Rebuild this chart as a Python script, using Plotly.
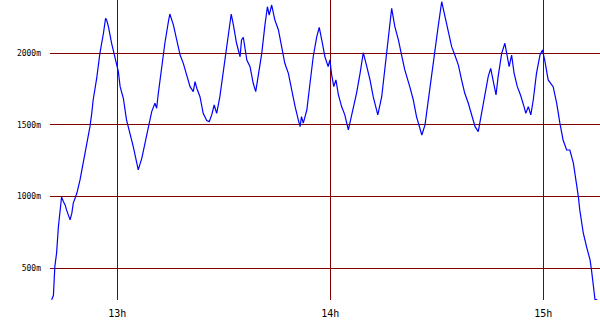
import plotly.graph_objects as go

# time in minutes after 12:00, altitude in metres
minutes = [41.5, 42.0, 42.4, 42.9, 43.4, 43.9, 44.3, 44.8, 45.3, 45.7, 46.7, 47.2, 47.6, 48.1, 48.6,
           49.5, 50.4, 51.4, 52.3, 52.8, 53.2, 54.2, 55.1, 56.1, 56.7, 57.0, 57.5, 58.4, 59.4, 60.3,
           60.8, 61.7, 62.6, 63.6, 64.5, 65.5, 65.9, 66.9, 67.8, 68.7, 69.7, 70.6, 71.1, 71.5, 72.5,
           73.4, 74.4, 74.8, 75.8, 76.7, 77.7, 78.6, 79.6, 80.5, 81.4, 81.9, 82.4, 83.3, 84.2, 85.2,
           85.9, 86.6, 87.3, 88.0, 88.9, 89.9, 90.8, 91.6, 92.1, 92.7, 93.6,
           94.6, 95.0, 95.5, 96.0, 96.5, 97.4, 98.3, 99.0, 99.7, 100.7, 101.6, 102.3, 102.8, 103.5,
           104.4, 105.4, 106.3, 107.2, 108.2, 109.1, 110.1, 111.0, 111.5, 111.9, 112.4, 112.9, 113.4,
           114.3, 115.2, 116.2, 116.9, 117.6, 118.5, 119.4, 119.9, 120.4, 121.0, 121.6, 122.3, 123.2,
           124.1, 125.1, 126.0, 127.4, 128.4, 129.3, 130.3, 131.2, 132.1, 133.4, 134.5, 135.4, 136.3,
           137.3, 138.2, 139.2, 140.1, 141.0, 142.4, 143.4, 144.3, 145.0, 145.8, 146.7, 147.6,
           148.6, 149.5, 150.4, 151.4, 152.3, 153.2, 154.2, 155.1, 156.1, 157.0, 157.9, 158.9, 159.8,
           160.8, 161.7, 162.7, 163.6, 164.5, 165.2, 165.9, 166.7, 167.3, 168.3, 169.2, 169.9, 170.4,
           171.1, 171.8, 172.7, 173.6, 174.6, 175.1, 175.8, 176.5, 177.2, 178.1, 179.1, 179.8, 180.5,
           181.4, 182.8, 183.8, 184.7, 185.6, 186.6, 187.5, 188.5, 189.4, 189.9, 190.3, 191.3, 192.2,
           193.2, 193.6, 194.1, 194.6, 195.2]
altitude = [280, 309, 511, 607, 788, 928, 997, 965, 942, 907, 837, 884, 954, 988, 1023,
            1116, 1233, 1348, 1488, 1581, 1674, 1826, 2000, 2140, 2244, 2232, 2186, 2070, 1965, 1872,
            1767, 1686, 1535, 1442, 1348, 1233, 1186, 1267, 1372, 1477, 1593, 1651, 1616, 1709, 1907,
            2070, 2221, 2274, 2198, 2105, 1988, 1930, 1837, 1767, 1732, 1802, 1756, 1697, 1581, 1530,
            1523, 1570, 1639, 1581, 1697, 1884, 2023, 2174, 2274, 2198, 2070,
            1976, 2093, 2112, 2035, 1953, 1907, 1791, 1732, 1837, 2000, 2198, 2325, 2267, 2337,
            2232, 2163, 2046, 1930, 1860, 1744, 1628, 1535, 1488, 1558, 1512, 1558, 1604,
            1791, 1976, 2116, 2181, 2093, 1976, 1907, 1953, 1849, 1767, 1814, 1709, 1628,
            1570, 1465, 1558, 1721, 1860, 2004, 1907, 1814, 1697, 1570, 1697, 1907, 2116,
            2314, 2186, 2093, 1988, 1884, 1767, 1674, 1558, 1488, 1430, 1500, 1674,
            1860, 2023, 2186, 2360, 2256, 2140, 2046, 1988, 1918, 1814, 1721, 1651, 1581,
            1488, 1453, 1581, 1721, 1837, 1895, 1814, 1709, 1837, 2000, 2070, 1976, 1907,
            1988, 1860, 1767, 1709, 1628, 1581, 1628, 1570, 1674, 1860, 1988, 2023, 1942,
            1814, 1767, 1651, 1512, 1395, 1325, 1325, 1233, 1093, 1000, 907, 744, 651,
            558, 488, 372, 280, 280]

alt_ticks = [500, 1000, 1500, 2000]
alt_labels = ["500m", "1000m", "1500m", "2000m"]
hour_ticks = [60, 120, 180]
hour_labels = ["13h", "14h", "15h"]

fig = go.Figure(go.Scatter(x=minutes, y=altitude, mode="lines",
                           line=dict(color="#0000ff", width=1.2),
                           showlegend=False, hoverinfo="skip"))

grid = "#800000"
fig.update_layout(
    width=600, height=330,
    margin=dict(l=50, r=0, t=0, b=30),
    paper_bgcolor="white", plot_bgcolor="white",
    font=dict(family="DejaVu Sans Mono", color="black"),
)
fig.update_xaxes(range=[41.04, 196.0], tickvals=hour_ticks, ticktext=hour_labels,
                 showgrid=True, gridcolor=grid, gridwidth=1, zeroline=False,
                 showline=False, ticks="", tickfont=dict(size=10), ticklabelstandoff=6)
fig.update_yaxes(range=[278, 2372], tickvals=alt_ticks, ticktext=alt_labels,
                 showgrid=True, gridcolor=grid, gridwidth=1, zeroline=False,
                 showline=False, ticks="", tickfont=dict(size=8), ticklabelstandoff=8)

fig.write_html("out.html")
